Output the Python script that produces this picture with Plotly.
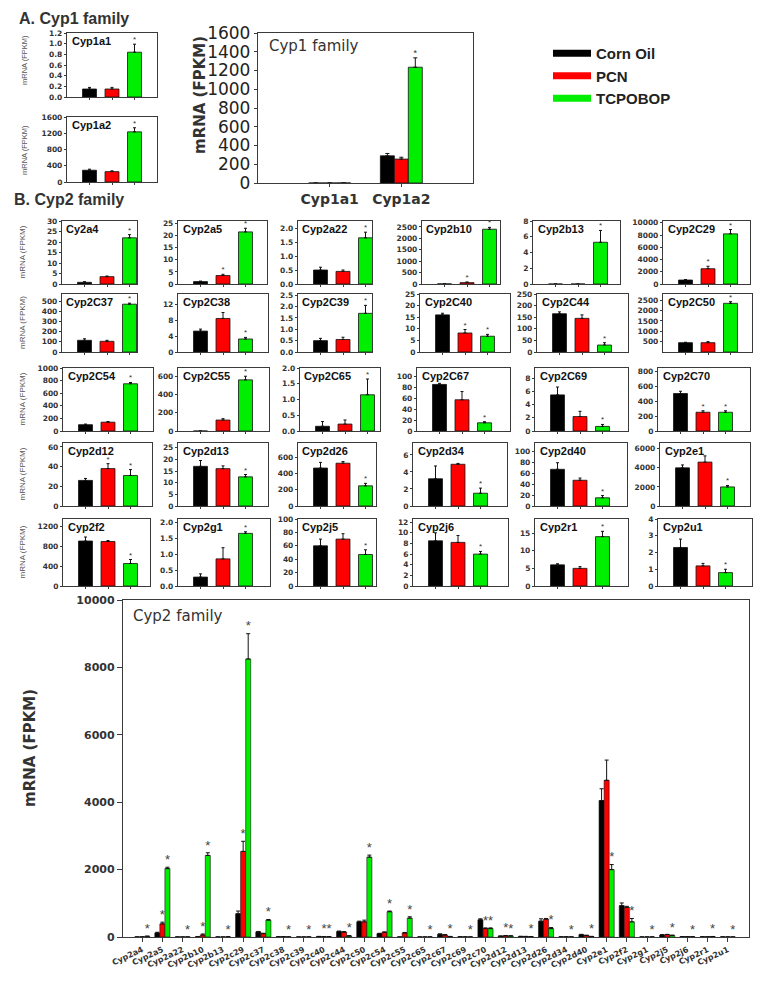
import numpy as np
import plotly.graph_objects as go

W, H = 762, 983
OFF = 8  # page body margin of the html page, compensated so boxes land at reference pixels
FONT = "Liberation Sans, Arial, sans-serif"
FONT_W = "DejaVu Sans, Liberation Sans, sans-serif"
SERIES = ["Corn Oil", "PCN", "TCPOBOP"]
COLORS = ["#000000", "#ff0000", "#00ee00"]

# ---------------- Panel A data (Cyp1 family) ----------------
cyp1_titles = ["Cyp1a1", "Cyp1a2"]
cyp1_corn = [0.15, 290]
cyp1_corn_err = [0.03, 25]
cyp1_pcn = [0.15, 255]
cyp1_pcn_err = [0.03, 20]
cyp1_tcp = [0.84, 1235]
cyp1_tcp_err = [0.15, 100]
cyp1_pcn_sig = [0, 0]
cyp1_tcp_sig = [1, 1]
cyp1_ymax = [1.2, 1600]
cyp1_ystep = [0.2, 400]

# ---------------- Panel B small multiples (Cyp2 family) ----------------
cyp2_titles = ["Cy2a4", "Cyp2a5", "Cyp2a22", "Cyp2b10", "Cyp2b13", "Cyp2C29",
               "Cyp2C37", "Cyp2C38", "Cyp2C39", "Cyp2C40", "Cyp2C44", "Cyp2C50",
               "Cyp2C54", "Cyp2C55", "Cyp2C65", "Cyp2C67", "Cyp2C69", "Cyp2C70",
               "Cyp2d12", "Cyp2d13", "Cyp2d26", "Cyp2d34", "Cyp2d40", "Cyp2e1",
               "Cyp2f2", "Cyp2g1", "Cyp2j5", "Cyp2j6", "Cyp2r1", "Cyp2u1"]
corn_oil = [0.8, 1.0, 0.5, 5, 0, 650, 115, 5.3, 0.5, 16, 165, 450,
            100, 0, 0.15, 85, 5.5, 500, 26, 17, 470, 3.2, 67, 4000,
            900, 0.28, 60, 8.5, 6, 2.3]
corn_oil_err = [0.3, 0.2, 0.1, 3, 0, 80, 15, 0.5, 0.1, 0.7, 8, 20,
                10, 0, 0.15, 2, 1.2, 30, 2, 2.5, 70, 1.5, 12, 300,
                80, 0.1, 10, 1.5, 0.3, 0.5]
pcn = [3.5, 3.5, 0.45, 60, 0, 2500, 105, 8.5, 0.55, 8.2, 145, 450,
       140, 120, 0.22, 57, 2.2, 250, 38, 16, 530, 4.9, 47, 4600,
       890, 0.85, 70, 8.2, 5, 1.2]
pcn_err = [0.3, 0.5, 0.05, 30, 0, 400, 10, 1.5, 0.1, 1.5, 15, 50,
           10, 15, 0.13, 15, 0.8, 20, 5, 1.2, 20, 0.1, 4, 650,
           20, 0.35, 8, 1.3, 0.5, 0.15]
tcpobop = [22, 21.5, 1.65, 2400, 5.3, 8200, 470, 3.3, 1.7, 6.8, 30, 2350,
           750, 560, 1.15, 15, 0.7, 250, 31, 12.5, 250, 1.5, 15, 2000,
           450, 1.65, 47, 6, 14, 0.8]
tcpobop_err = [1.5, 1.5, 0.2, 80, 1.5, 700, 10, 0.4, 0.35, 0.8, 10, 80,
               20, 40, 0.5, 2, 0.3, 20, 6, 1, 30, 0.6, 4, 150,
               80, 0.05, 7, 0.5, 1.5, 0.2]
pcn_sig = [0, 1, 0, 1, 0, 1, 0, 0, 0, 1, 0, 0, 0, 0, 0, 0, 0, 1,
           1, 0, 0, 0, 0, 0, 0, 0, 0, 0, 0, 0]
tcp_sig = [1] * 30
cyp2_ymax = [30, 26, 2.25, 2760, 8, 10300,
             570, 14.7, 2.55, 25, 250, 2800,
             1000, 690, 2.0, 115, 9.6, 840,
             64, 27, 780, 7.4, 115, 6600,
             1340, 2.1, 100, 12.6, 19, 4.0]
cyp2_ystep = [5, 5, 0.5, 500, 2, 2000,
              100, 4, 0.5, 5, 50, 500,
              200, 200, 0.5, 20, 2, 200,
              20, 5, 200, 2, 20, 2000,
              400, 0.5, 20, 2, 5, 1]
cyp2_ystart = [0] * 11 + [500] + [0] * 18

# ---------------- Bottom overview chart (Cyp2 family) ----------------
fam_genes = ["Cyp2a4", "Cyp2a5", "Cyp2a22", "Cyp2b10", "Cyp2b13", "Cyp2c29",
             "Cyp2c37", "Cyp2c38", "Cyp2c39", "Cyp2c40", "Cyp2c44", "Cyp2c50",
             "Cyp2c54", "Cyp2c55", "Cyp2c65", "Cyp2c67", "Cyp2c69", "Cyp2c70",
             "Cyp2d12", "Cyp2d13", "Cyp2d26", "Cyp2d34", "Cyp2d40", "Cyp2e1",
             "Cyp2f2", "Cyp2g1", "Cyp2j5", "Cyp2j6", "Cyp2r1", "Cyp2u1"]
fam_corn = [1, 120, 0.5, 5, 0, 690, 150, 5, 0.5, 16, 165, 450,
            100, 0, 0.2, 85, 5.5, 510, 26, 17, 470, 3, 67, 4050,
            930, 0.3, 60, 8.5, 6, 2.3]
fam_corn_err = [0.3, 20, 0.1, 3, 0, 80, 15, 0.5, 0.1, 0.7, 10, 20,
                10, 0, 0.15, 2, 1.2, 30, 2, 2.5, 70, 1.5, 12, 350,
                80, 0.1, 10, 1.5, 0.3, 0.5]
fam_pcn = [3.5, 390, 0.45, 60, 0, 2540, 100, 8.5, 0.55, 8, 145, 450,
           140, 120, 0.2, 57, 2.2, 250, 38, 16, 530, 4.9, 47, 4650,
           880, 0.85, 70, 8.2, 5, 1.2]
fam_pcn_err = [0.3, 50, 0.05, 30, 0, 300, 10, 1.5, 0.1, 1.5, 15, 50,
               10, 15, 0.13, 15, 0.8, 20, 5, 1.2, 20, 0.1, 4, 600,
               30, 0.35, 8, 1.3, 0.5, 0.15]
fam_tcp = [22, 2030, 1.65, 2420, 5.3, 8250, 500, 3.3, 1.7, 6.8, 30, 2370,
           750, 560, 1.15, 15, 0.7, 250, 31, 12.5, 250, 1.5, 15, 2000,
           450, 1.65, 47, 6, 14, 0.8]
fam_tcp_err = [1.5, 40, 0.2, 80, 1.5, 750, 20, 0.4, 0.35, 0.8, 10, 60,
               20, 40, 0.5, 2, 0.3, 20, 6, 1, 30, 0.6, 4, 150,
               100, 0.05, 7, 0.5, 1.5, 0.2]
fam_ticks = [0, 2000, 4000, 6000, 8000, 10000]

# ---------------- layout helpers ----------------
fig = go.Figure()
layout = dict(width=W, height=H,
              margin=dict(l=0, r=0, t=0, b=0, pad=0, autoexpand=False),
              paper_bgcolor="white", plot_bgcolor="white",
              font=dict(family=FONT, color="#222"),
              annotations=[], showlegend=True)
counter = [0]
LINE = "#3a3a3a"


def px(x):
    return (x - OFF) / W


def py(y):
    return 1 - (y - OFF) / H


def new_axes(box, xcfg, ycfg):
    counter[0] += 1
    n = counter[0]
    s = "" if n == 1 else str(n)
    x0, x1, y0, y1 = box
    base = dict(showline=True, mirror=True, linecolor=LINE, linewidth=1.3,
                showgrid=False, zeroline=False, fixedrange=True, automargin=False)
    xa = dict(base, domain=[px(x0), px(x1)], anchor="y" + s)
    xa.update(xcfg)
    ya = dict(base, domain=[py(y1), py(y0)], anchor="x" + s)
    ya.update(ycfg)
    layout["xaxis" + s] = xa
    layout["yaxis" + s] = ya
    return "x" + s, "y" + s


def small_panel(box, vals, errs, sigs, title, ymax, ystep, ystart=0):
    x0, x1 = box[0], box[1]
    tickvals = list(np.arange(ystart, ymax + ystep * 0.01, ystep))
    fmt = ".1f" if ystep < 1 else "d"
    xa, ya = new_axes(
        box,
        dict(range=[0, (x1 - x0) / 22.5], tickvals=[1, 2, 3], ticktext=["", "", ""],
             ticks="outside", ticklen=2, tickwidth=1, tickcolor=LINE),
        dict(range=[0, ymax], tickvals=tickvals, tickformat=fmt,
             ticks="outside", ticklen=2, tickwidth=1, tickcolor=LINE,
             tickfont=dict(family=FONT_W, size=7.5, color="#333", weight="bold")))
    fig.add_trace(go.Bar(
        x=[1, 2, 3], y=vals, width=0.62, xaxis=xa, yaxis=ya,
        marker=dict(color=COLORS, line=dict(color="#111", width=0.8)),
        error_y=dict(type="data", array=errs, arrayminus=[0, 0, 0], symmetric=False,
                     color="#111", thickness=1, width=1.5),
        showlegend=False, hoverinfo="skip"))
    sx = [i + 1 for i in range(3) if sigs[i]]
    sy = [vals[i] + errs[i] for i in range(3) if sigs[i]]
    fig.add_trace(go.Scatter(
        x=sx, y=sy, mode="text", text=["*"] * len(sx), textposition="top center",
        textfont=dict(size=8, color="#333"), xaxis=xa, yaxis=ya,
        showlegend=False, hoverinfo="skip", cliponaxis=False))
    layout["annotations"].append(dict(
        xref=xa + " domain", yref=ya + " domain", x=0.03, y=1.0,
        xanchor="left", yanchor="top", showarrow=False, text=title,
        font=dict(family=FONT, size=11, color="#111", weight="bold")))


def row_label(xc, yc, size=8):
    layout["annotations"].append(dict(
        xref="paper", yref="paper", x=px(xc), y=py(yc), textangle=-90,
        xanchor="center", yanchor="middle",
        showarrow=False, text="mRNA (FPKM)",
        font=dict(family=FONT, size=size, color="#555")))


# ---------------- Panel A ----------------
layout["annotations"].append(dict(
    xref="paper", yref="paper", x=px(17), y=py(8), xanchor="left", yanchor="top",
    showarrow=False, text="A. Cyp1 family",
    font=dict(family=FONT, size=16, color="#333", weight="bold")))

cyp1_boxes = [(67, 157, 33, 97), (67, 157, 117, 182)]
for k in range(2):
    small_panel(cyp1_boxes[k],
                [cyp1_corn[k], cyp1_pcn[k], cyp1_tcp[k]],
                [cyp1_corn_err[k], cyp1_pcn_err[k], cyp1_tcp_err[k]],
                [0, cyp1_pcn_sig[k], cyp1_tcp_sig[k]],
                cyp1_titles[k], cyp1_ymax[k], cyp1_ystep[k])
row_label(25, 60, 7.5)
row_label(25, 150, 7.5)

# big Cyp1 family chart
xa, ya = new_axes(
    (258, 473, 33, 183),
    dict(range=[-1, 2], tickvals=[0, 1], ticktext=cyp1_titles, ticks="outside",
         ticklen=3, tickcolor=LINE,
         tickfont=dict(family=FONT_W, size=14, color="#333", weight="bold")),
    dict(range=[0, 1600], dtick=200, tick0=0, ticks="outside", ticklen=3, tickcolor=LINE,
         tickfont=dict(family=FONT_W, size=17, color="#222")))
cyp1_sets = [(cyp1_corn, cyp1_corn_err, [0, 0]), (cyp1_pcn, cyp1_pcn_err, cyp1_pcn_sig),
             (cyp1_tcp, cyp1_tcp_err, cyp1_tcp_sig)]
bw1 = 0.195
for j, (v, e, sg) in enumerate(cyp1_sets):
    off = -1.5 * bw1 + j * bw1
    fig.add_trace(go.Bar(
        x=[0, 1], y=v, width=bw1, offset=off, xaxis=xa, yaxis=ya,
        marker=dict(color=COLORS[j], line=dict(color="#111", width=0.8)),
        error_y=dict(type="data", array=e, arrayminus=[0, 0], symmetric=False,
                     color="#111", thickness=1, width=2),
        showlegend=False, hoverinfo="skip"))
    sx = [i + off + bw1 / 2 for i in range(2) if sg[i] and v[i] > 1]
    sy = [v[i] + e[i] for i in range(2) if sg[i] and v[i] > 1]
    fig.add_trace(go.Scatter(
        x=sx, y=sy, mode="text", text=["*"] * len(sx), textposition="top center",
        textfont=dict(size=9, color="#333"), xaxis=xa, yaxis=ya,
        showlegend=False, hoverinfo="skip", cliponaxis=False))
layout["annotations"].append(dict(
    xref=xa + " domain", yref=ya + " domain", x=0.04, y=0.99, xanchor="left", yanchor="top",
    showarrow=False, text="Cyp1 family", font=dict(family=FONT_W, size=15, color="#333")))
layout["annotations"].append(dict(
    xref="paper", yref="paper", x=px(200), y=py(95), textangle=-90, showarrow=False,
    xanchor="center", yanchor="middle",
    text="mRNA (FPKM)", font=dict(family=FONT_W, size=15, color="#333", weight="bold")))

# legend entries
for j in range(3):
    fig.add_trace(go.Scatter(x=[None], y=[None], mode="lines", name=SERIES[j],
                             line=dict(color=COLORS[j], width=7), xaxis=xa, yaxis=ya))
layout["legend"] = dict(x=px(548), y=py(37), xanchor="left", yanchor="top",
                        itemwidth=38, tracegroupgap=0, bgcolor="rgba(0,0,0,0)",
                        font=dict(family=FONT, size=15, color="#222", weight="bold"))

# ---------------- Panel B small multiples ----------------
layout["annotations"].append(dict(
    xref="paper", yref="paper", x=px(12), y=py(199), xanchor="left", yanchor="middle",
    showarrow=False, text="B. Cyp2 family",
    font=dict(family=FONT, size=16, color="#333", weight="bold")))

col_x = [
    [(62, 137), (178, 267), (298, 372), (422, 500), (533, 620), (663, 750)],
    [(62, 137), (178, 268), (298, 372), (420, 510), (537, 628), (663, 752)],
    [(63, 153), (178, 269), (300, 380), (417, 510), (535, 628), (658, 750)],
    [(63, 152), (178, 268), (298, 376), (413, 507), (535, 627), (660, 750)],
    [(63, 150), (178, 270), (298, 376), (413, 508), (535, 628), (658, 752)],
]
row_y = [(221, 284), (294, 352), (368, 431), (443, 506), (519, 586)]
for k in range(30):
    r, c = divmod(k, 6)
    bx = (col_x[r][c][0], col_x[r][c][1], row_y[r][0], row_y[r][1])
    small_panel(bx, [corn_oil[k], pcn[k], tcpobop[k]],
                [corn_oil_err[k], pcn_err[k], tcpobop_err[k]],
                [0, pcn_sig[k], tcp_sig[k]], cyp2_titles[k],
                cyp2_ymax[k], cyp2_ystep[k], cyp2_ystart[k])
for r in range(5):
    row_label(22, (row_y[r][0] + row_y[r][1]) / 2, 8)

# ---------------- Bottom Cyp2 family chart ----------------
xb = list(range(len(fam_genes)))
xa, ya = new_axes(
    (123, 749, 600, 937),
    dict(range=[-0.95, 30.05], tickvals=xb, ticktext=fam_genes, tickangle=-25,
         ticks="outside", ticklen=4, tickcolor=LINE,
         tickfont=dict(family=FONT_W, size=8, color="#333", weight="bold")),
    dict(range=[0, 10000], tickvals=fam_ticks, tickformat="d", ticks="outside",
         ticklen=5, tickcolor=LINE,
         tickfont=dict(family=FONT_W, size=11, color="#333", weight="bold")))
fam_sets = [(fam_corn, fam_corn_err, [0] * 30), (fam_pcn, fam_pcn_err, pcn_sig),
            (fam_tcp, fam_tcp_err, tcp_sig)]
bwb = 0.25
for j, (v, e, sg) in enumerate(fam_sets):
    off = -1.5 * bwb + j * bwb
    fig.add_trace(go.Bar(
        x=xb, y=v, width=bwb, offset=off, xaxis=xa, yaxis=ya,
        marker=dict(color=COLORS[j], line=dict(color="#111", width=0.6)),
        error_y=dict(type="data", array=e, arrayminus=[0] * 30, symmetric=False,
                     color="#111", thickness=1, width=2),
        showlegend=False, hoverinfo="skip"))
    sx = [xb[i] + off + bwb / 2 for i in range(30) if sg[i]]
    sy = [v[i] + e[i] for i in range(30) if sg[i]]
    fig.add_trace(go.Scatter(
        x=sx, y=sy, mode="text", text=["*"] * len(sx), textposition="top center",
        textfont=dict(size=13, color="#444"), xaxis=xa, yaxis=ya,
        showlegend=False, hoverinfo="skip", cliponaxis=False))
layout["annotations"].append(dict(
    xref=xa + " domain", yref=ya + " domain", x=0.012, y=0.985, xanchor="left", yanchor="top",
    showarrow=False, text="Cyp2 family", font=dict(family=FONT_W, size=15, color="#333")))
layout["annotations"].append(dict(
    xref="paper", yref="paper", x=px(30), y=py(748), textangle=-90, showarrow=False,
    xanchor="center", yanchor="middle",
    text="mRNA (FPKM)", font=dict(family=FONT_W, size=15, color="#333", weight="bold")))

layout["barmode"] = "overlay"
fig.update_layout(**layout)
fig.write_html("out.html")
